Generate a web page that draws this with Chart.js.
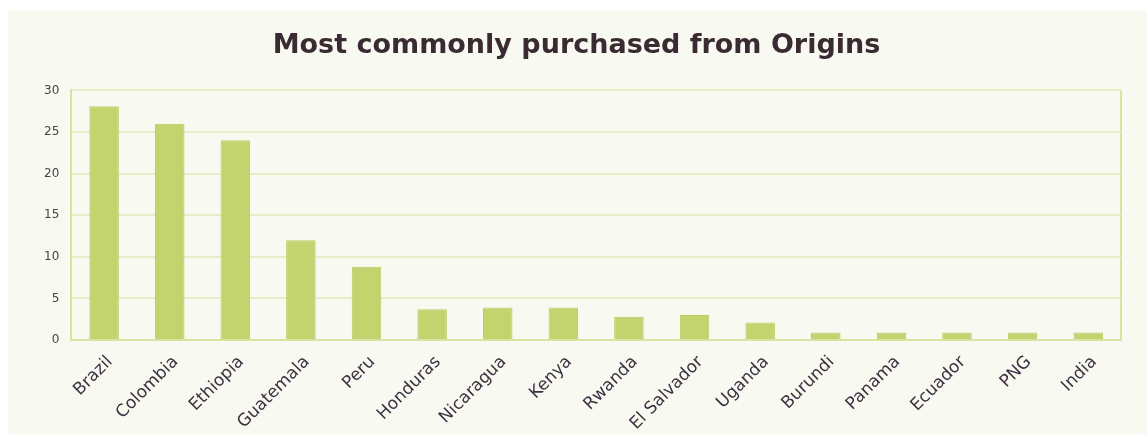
<!DOCTYPE html>
<html>
<head>
<meta charset="utf-8">
<script src="https://cdn.jsdelivr.net/npm/chart.js@4.4.1/dist/chart.umd.min.js"></script>
<style>
  html, body { margin: 0; padding: 0; background: #ffffff; overflow: hidden; }
  #panel {
    position: absolute;
    left: 8px;
    top: 10px;
    width: 1139px;
    height: 424px;
    overflow: hidden;
    background: #f8f9f1;
  }
</style>
</head>
<body>
<div id="panel"><canvas id="originsChart" width="1139" height="436"></canvas></div>
<script>
// ======= data =======
const origins = ['Brazil', 'Colombia', 'Ethiopia', 'Guatemala', 'Peru', 'Honduras', 'Nicaragua', 'Kenya',
  'Rwanda', 'El Salvador', 'Uganda', 'Burundi', 'Panama', 'Ecuador', 'PNG', 'India']
const purchases = [28.1, 26, 24, 12, 8.8, 3.7, 3.9, 3.9, 2.8, 3, 2.1, 0.9, 0.9, 0.9, 0.9, 0.9]
const yTicks = [0, 5, 10, 15, 20, 25, 30]

const lineGreen = '#e6edc8'
const borderGreen = '#d6e4a2'

const ctx = document.getElementById('originsChart')
new Chart(ctx.getContext('2d'), {
  type: 'bar',
  data: {
    labels: origins,
    datasets: [
      {
        label: 'Purchases',
        data: purchases,
        backgroundColor: '#c3d46f',
        borderColor: '#b9cc62',
        borderWidth: 1,
        categoryPercentage: 0.5,
        barPercentage: 0.9
      }
    ]
  },
  options: {
    responsive: false,
    animation: false,
    layout: { padding: { left: 24, right: 26, top: 0, bottom: 0 } },
    plugins: {
      legend: { display: false },
      tooltip: { enabled: false },
      title: {
        display: true,
        text: 'Most commonly purchased from Origins',
        color: '#3a2b33',
        font: { family: 'DejaVu Sans', size: 27, weight: 'bold' },
        padding: { top: 20, bottom: 28 }
      }
    },
    scales: {
      x: {
        grid: {
          drawTicks: false,
          lineWidth: 2,
          color: c => (c.type === 'scale' ? borderGreen : 'rgba(0,0,0,0)')
        },
        border: { color: borderGreen, width: 2 },
        ticks: {
          maxRotation: 45,
          minRotation: 45,
          padding: 12,
          labelOffset: 6,
          color: '#3d3040',
          font: { family: 'DejaVu Sans', size: 17 }
        }
      },
      y: {
        min: 0,
        max: 30,
        afterBuildTicks: axis => { axis.ticks = yTicks.map(v => ({ value: v })) },
        grid: { drawTicks: false, color: lineGreen, lineWidth: 2 },
        border: { color: borderGreen, width: 2 },
        ticks: {
          padding: 12,
          color: '#4a4048',
          font: { family: 'DejaVu Sans', size: 12 }
        }
      }
    }
  }
})
</script>
</body>
</html>
